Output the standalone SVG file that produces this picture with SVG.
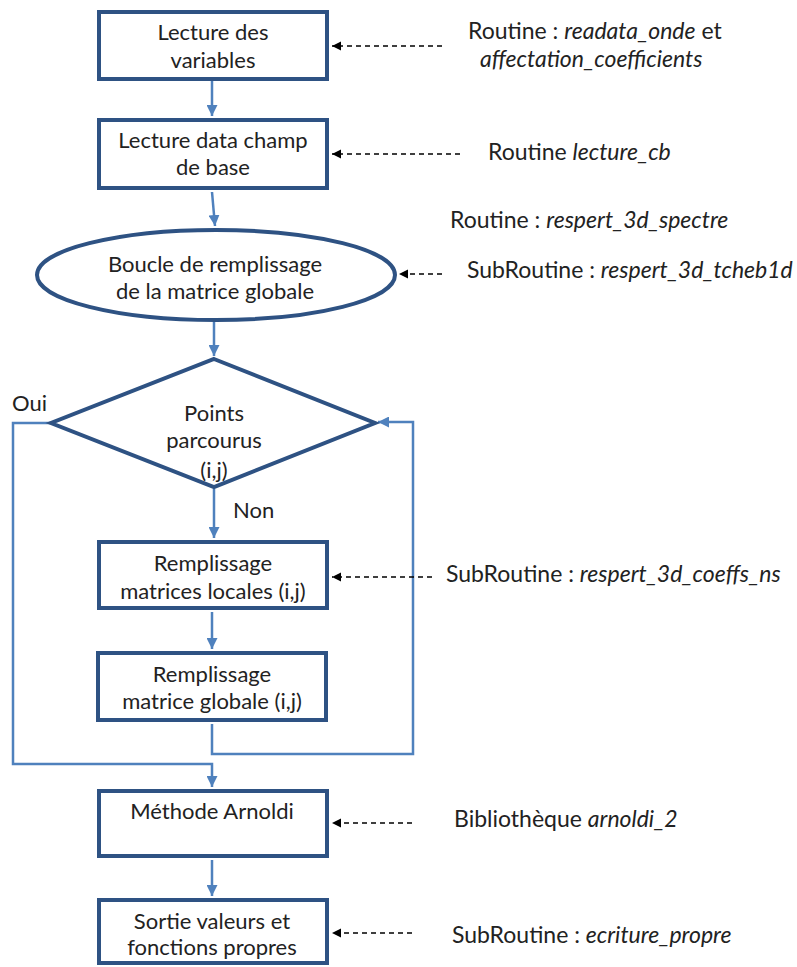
<svg xmlns="http://www.w3.org/2000/svg" width="797" height="967" viewBox="0 0 797 967">
<style>
.box{fill:#fff;stroke:#2E5283;stroke-width:4}
.t{font-family:Lato,"Open Sans",sans-serif;font-size:22px;fill:#222;text-anchor:middle}
.l{font-family:Lato,"Open Sans",sans-serif;font-size:22px;fill:#222}
.r{font-size:23px}
.i{font-style:italic}
.flow{fill:none;stroke:#4F81BD;stroke-width:2.5}
.dash{fill:none;stroke:#000;stroke-width:1.3;stroke-dasharray:5,4}
</style>
<defs>
<marker id="ab" viewBox="0 0 10 10" refX="10" refY="5" markerWidth="4.4" markerHeight="4.4" orient="auto" markerUnits="strokeWidth">
<path d="M0,0 L10,5 L0,10 z" fill="#4F81BD"/>
</marker>
<marker id="ak" viewBox="0 0 10 10" refX="10" refY="5" markerWidth="7" markerHeight="7" orient="auto" markerUnits="strokeWidth">
<path d="M0,0 L10,5 L0,10 z" fill="#000"/>
</marker>
</defs>
<g id="connectors">
<line class="flow" x1="212" y1="81" x2="212" y2="116" marker-end="url(#ab)"/>
<line class="flow" x1="212" y1="192" x2="215" y2="226" marker-end="url(#ab)"/>
<line class="flow" x1="214" y1="322" x2="214" y2="356" marker-end="url(#ab)"/>
<line class="flow" x1="214" y1="489" x2="214" y2="538" marker-end="url(#ab)"/>
<line class="flow" x1="212" y1="612" x2="212" y2="649" marker-end="url(#ab)"/>
<polyline class="flow" points="50,423 13,423 13,764 212,764 212,787" marker-end="url(#ab)"/>
<polyline class="flow" points="212,724 212,754 413,754 413,422 378,422" marker-end="url(#ab)"/>
<line class="flow" x1="212" y1="860" x2="212" y2="896" marker-end="url(#ab)"/>
<line class="dash" x1="442" y1="46" x2="332" y2="46" marker-end="url(#ak)"/>
<line class="dash" x1="460" y1="154" x2="332" y2="154" marker-end="url(#ak)"/>
<line class="dash" x1="442" y1="274" x2="399" y2="274" marker-end="url(#ak)"/>
<line class="dash" x1="432" y1="577" x2="332" y2="577" marker-end="url(#ak)"/>
<line class="dash" x1="412" y1="823" x2="332" y2="823" marker-end="url(#ak)"/>
<line class="dash" x1="412" y1="933" x2="332" y2="933" marker-end="url(#ak)"/>
</g>
<g id="n1">
<rect class="box" x="99" y="12" width="228" height="67"/>
<text class="t" x="213" y="40">Lecture des</text>
<text class="t" x="213" y="68">variables</text>
</g>
<g id="n2">
<rect class="box" x="99" y="120" width="228" height="68"/>
<text class="t" x="213" y="148">Lecture data champ</text>
<text class="t" x="213" y="175">de base</text>
</g>
<g id="n3">
<ellipse class="box" cx="216" cy="275" rx="179" ry="45"/>
<text class="t" x="215" y="272">Boucle de remplissage</text>
<text class="t" x="215" y="299">de la matrice globale</text>
</g>
<g id="n4">
<polygon class="box" points="214,359 375,423 214,487 51,423"/>
<text class="t" x="214" y="421">Points</text>
<text class="t" x="214" y="448">parcourus</text>
<text class="t" x="214" y="478">(i,j)</text>
</g>
<g id="n5">
<rect class="box" x="99" y="542" width="228" height="66"/>
<text class="t" x="213" y="571">Remplissage</text>
<text class="t" x="213" y="599">matrices locales (i,j)</text>
</g>
<g id="n6">
<rect class="box" x="98" y="653" width="228" height="67"/>
<text class="t" x="212" y="682">Remplissage</text>
<text class="t" x="212" y="709">matrice globale (i,j)</text>
</g>
<g id="n7">
<rect class="box" x="99" y="791" width="228" height="65"/>
<text class="t" x="212" y="819">Méthode Arnoldi</text>
</g>
<g id="n8">
<rect class="box" x="99" y="900" width="228" height="63"/>
<text class="t" x="212" y="929">Sortie valeurs et</text>
<text class="t" x="212" y="955">fonctions propres</text>
</g>
<g id="labels">
<text class="l" x="12" y="411">Oui</text>
<text class="l" x="233" y="518">Non</text>
<text class="l r" x="468" y="39">Routine : <tspan class="i">readata_onde</tspan> et</text>
<text class="l r" x="480" y="67"><tspan class="i">affectation_coefficients</tspan></text>
<text class="l r" x="488" y="160">Routine <tspan class="i">lecture_cb</tspan></text>
<text class="l r" x="450" y="228">Routine : <tspan class="i">respert_3d_spectre</tspan></text>
<text class="l r" x="467" y="278">SubRoutine : <tspan class="i">respert_3d_tcheb1d</tspan></text>
<text class="l r" x="446" y="582">SubRoutine : <tspan class="i">respert_3d_coeffs_ns</tspan></text>
<text class="l r" x="454" y="827">Bibliothèque <tspan class="i">arnoldi_2</tspan></text>
<text class="l r" x="452" y="943">SubRoutine : <tspan class="i">ecriture_propre</tspan></text>
</g>
</svg>
